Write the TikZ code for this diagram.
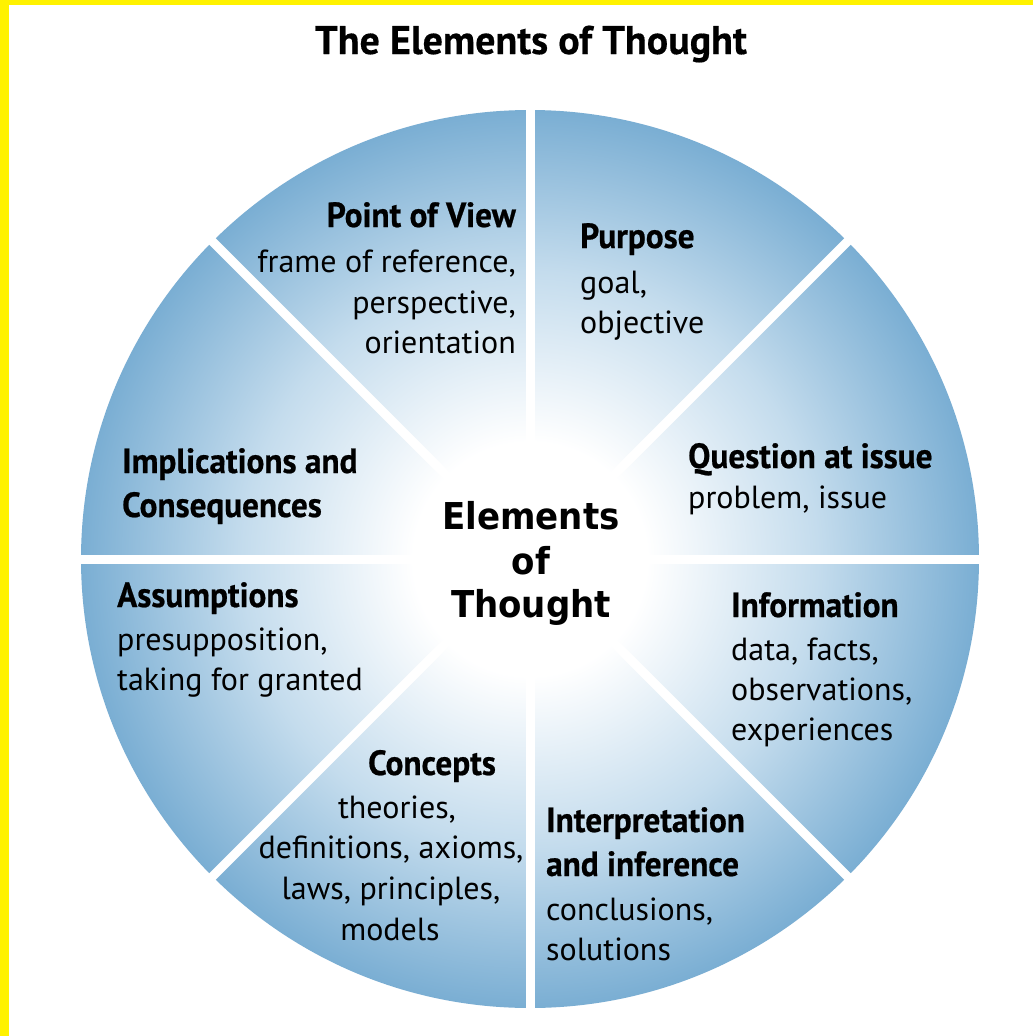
\documentclass[tikz,border=0pt]{standalone}
\usepackage{fontspec}
\setmainfont{PT Sans}
\newfontfamily\headfont[FakeStretch=0.95,FakeBold=0.6]{PT Sans Bold}
\newfontfamily\titlefont[FakeBold=0.4]{PT Sans Bold}
\newfontfamily\centerfont[FakeStretch=0.92]{DejaVu Sans Bold}
\definecolor{edgeblue}{RGB}{122,174,211}
\definecolor{midblue}{RGB}{196,220,237}
\pgfdeclareradialshading{wheelshade}{\pgfpointorigin}{color(0bp)=(white); color(6.5bp)=(white); color(16bp)=(midblue); color(25bp)=(edgeblue); color(50bp)=(edgeblue)}
\tikzset{
  head/.style={inner sep=0pt, font=\headfont\fontsize{35}{40}\selectfont},
  body/.style={inner sep=0pt, font=\fontsize{32}{40}\selectfont},
  gap/.style={white, line width=9pt},
}
\begin{document}
\begin{tikzpicture}[x=1pt,y=-1pt]
\useasboundingbox (0,0) rectangle (1033,1036);
\fill[white] (0,0) rectangle (1033,1036);
\fill[yellow] (0,0) rectangle (9,1036);
\fill[yellow] (0,0) rectangle (1033,5);
\coordinate (c) at (530,559);
\shade[shading=wheelshade] (c) circle[radius=449pt];
\foreach \a in {0,45,90,135}{
  \draw[gap] ([shift={(\a:470pt)}]c) -- ([shift={(\a+180:470pt)}]c);
}
% title
\node[inner sep=0pt, anchor=base, font=\titlefont\fontsize{40}{48}\selectfont] (title) at (531,54) {The Elements of Thought};
% center
\node[inner sep=0pt, anchor=base, font=\centerfont\fontsize{37}{44}\selectfont] (ce1) at (531,529) {Elements};
\node[inner sep=0pt, anchor=base, font=\centerfont\fontsize{37}{44}\selectfont] (ce2) at (531,574) {of};
\node[inner sep=0pt, anchor=base, font=\centerfont\fontsize{37}{44}\selectfont] (ce3) at (531,617) {Thought};
% point of view
\node[head, anchor=base east] (pv0) at (516,227) {Point of View};
\node[body, anchor=base east] (pv1) at (516,272) {frame of reference,};
\node[body, anchor=base east] (pv2) at (516,313) {perspective,};
\node[body, anchor=base east] (pv3) at (516,353) {orientation};
% purpose
\node[head, anchor=base west] (pu0) at (580,248) {Purpose};
\node[body, anchor=base west] (pu1) at (580,293) {goal,};
\node[body, anchor=base west] (pu2) at (580,333) {objective};
% question
\node[head, anchor=base west] (qu0) at (688,468) {Question at issue};
\node[body, anchor=base west] (qu1) at (688,508) {problem, issue};
% information
\node[head, anchor=base west] (in0) at (731,617) {Information};
\node[body, anchor=base west] (in1) at (731,660) {data, facts,};
\node[body, anchor=base west] (in2) at (731,700) {observations,};
\node[body, anchor=base west] (in3) at (731,740) {experiences};
% interpretation
\node[head, anchor=base west] (ip0) at (546,832) {Interpretation};
\node[head, anchor=base west] (ip1) at (546,876) {and inference};
\node[body, anchor=base west] (ip2) at (546,920) {conclusions,};
\node[body, anchor=base west] (ip3) at (546,960) {solutions};
% concepts
\node[head, anchor=base] (co0) at (432,775) {Concepts};
\node[body, anchor=base] (co1) at (397,818) {theories,};
\node[body, anchor=base] (co2) at (391,858) {definitions, axioms,};
\node[body, anchor=base] (co3) at (391,899) {laws, principles,};
\node[body, anchor=base] (co4) at (390,940) {models};
% assumptions
\node[head, anchor=base west] (as0) at (117,607) {Assumptions};
\node[body, anchor=base west] (as1) at (117,650) {presupposition,};
\node[body, anchor=base west] (as2) at (117,690) {taking for granted};
% implications
\node[head, anchor=base west] (im0) at (122,473) {Implications and};
\node[head, anchor=base west] (im1) at (122,517) {Consequences};
\end{tikzpicture}
\end{document}
